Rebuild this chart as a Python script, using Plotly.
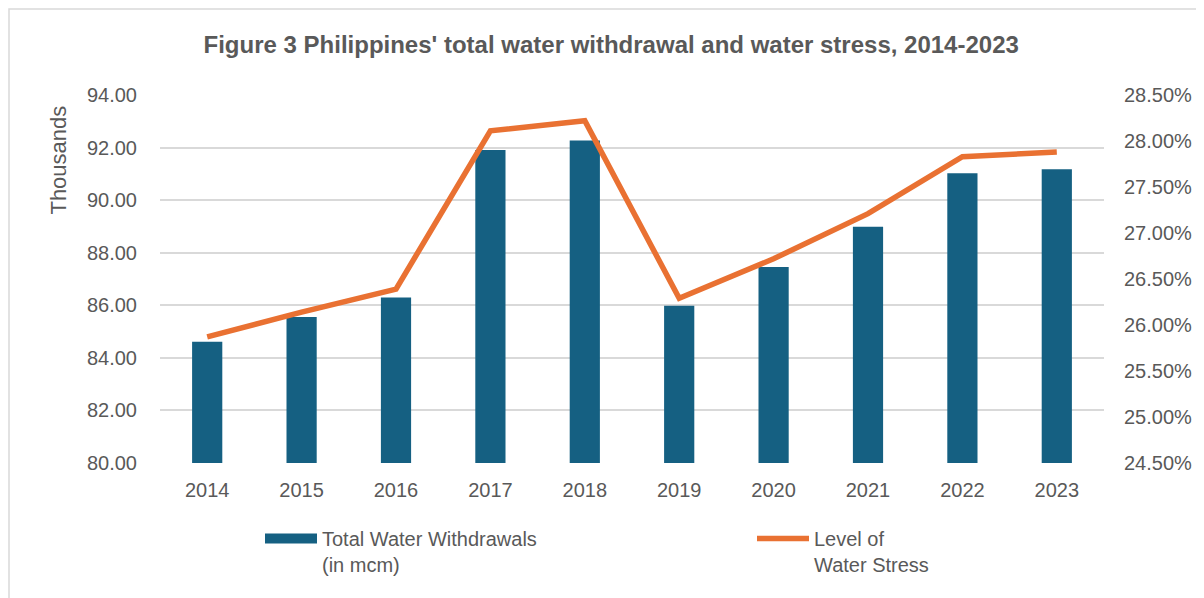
import plotly.graph_objects as go

years = ["2014", "2015", "2016", "2017", "2018", "2019", "2020", "2021", "2022", "2023"]
withdrawals = [84.61, 85.55, 86.30, 91.91, 92.27, 85.98, 87.46, 88.99, 91.02, 91.18]
water_stress = [0.2587, 0.2614, 0.2639, 0.2811, 0.2822, 0.2629, 0.2672, 0.2721, 0.2783, 0.2788]

left_ticks = [80, 82, 84, 86, 88, 90, 92, 94]
right_ticks = [0.245, 0.25, 0.255, 0.26, 0.265, 0.27, 0.275, 0.28, 0.285]

BAR = "#156082"
LINE = "#E97132"
TXT = "#595959"
GRID = "#D9D9D9"
FONT = "Liberation Sans, Arial, sans-serif"

L, T, PW, PH = 152, 87, 944, 367.7
W, H = 1204, 598
R = W - L - PW
B = H - T - PH


def px_x(p):
    return (p - L) / PW


def px_y(p):
    return (T + PH - p) / PH


fig = go.Figure()
fig.add_trace(go.Bar(x=years, y=withdrawals, marker=dict(color=BAR, line=dict(width=0)),
                     showlegend=False, yaxis="y"))
fig.add_trace(go.Scatter(x=years, y=water_stress, mode="lines", line=dict(color=LINE, width=5.5),
                         showlegend=False, yaxis="y2"))
# legend entries
fig.add_trace(go.Scatter(x=[None], y=[None], mode="lines", line=dict(color=BAR, width=12),
                         name="Total Water Withdrawals<br>(in mcm)", yaxis="y", legend="legend"))
fig.add_trace(go.Scatter(x=[None], y=[None], mode="lines", line=dict(color=LINE, width=5.5),
                         name="Level of<br>Water Stress", yaxis="y2", legend="legend2"))

legend_common = dict(orientation="h", xanchor="left", yanchor="top", valign="top",
                     xref="container", yref="container",
                     font=dict(size=20, color=TXT), bgcolor="rgba(0,0,0,0)", itemwidth=52)

fig.update_layout(
    width=W, height=H,
    margin=dict(l=L, r=R, t=T, b=B, autoexpand=False),
    paper_bgcolor="white", plot_bgcolor="white",
    font=dict(family=FONT, color=TXT, size=20),
    title=dict(text="<b>Figure 3 Philippines' total water withdrawal and water stress, 2014-2023</b>",
               x=0.501, xanchor="center", y=1 - 37 / H, yanchor="middle",
               font=dict(size=24, color=TXT)),
    bargap=0.68,
    xaxis=dict(type="category", showgrid=False, showline=False, ticks="",
               ticklabelstandoff=13, tickfont=dict(size=20, color=TXT)),
    yaxis=dict(range=[80, 94], tickvals=left_ticks, tickformat=".2f",
               showgrid=True, gridcolor=GRID, gridwidth=1.5, zeroline=False,
               showline=False, ticks="", ticklabelstandoff=22,
               tickfont=dict(size=20, color=TXT)),
    yaxis2=dict(range=[0.245, 0.285], tickvals=right_ticks, tickformat=".2%",
                overlaying="y", side="right", showgrid=False, zeroline=False,
                showline=False, ticks="", ticklabelstandoff=19,
                tickfont=dict(size=20, color=TXT)),
    legend=dict(x=252 / W, y=1 - 511 / H, **legend_common),
    legend2=dict(x=744 / W, y=1 - 511 / H, **legend_common),
    annotations=[dict(text="Thousands", xref="paper", yref="paper",
                      x=px_x(50.5), y=px_y(152), textangle=-90, showarrow=False,
                      xanchor="center", yanchor="middle",
                      font=dict(size=22, color=TXT))],
    shapes=[dict(type="rect", xref="paper", yref="paper",
                 x0=px_x(1), x1=px_x(1230),
                 y0=px_y(640), y1=px_y(1),
                 line=dict(color=GRID, width=1.5), fillcolor="rgba(0,0,0,0)", layer="below")],
)

fig.write_html("out.html")
